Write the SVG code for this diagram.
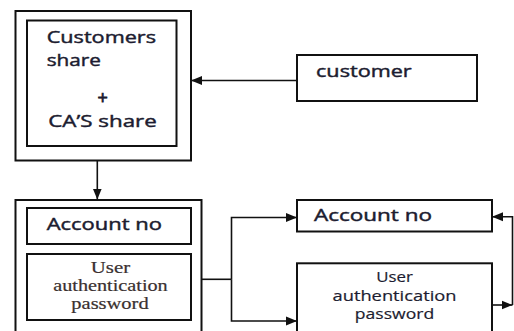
<svg xmlns="http://www.w3.org/2000/svg" width="514" height="331" viewBox="0 0 514 331">
<defs>
<style>
.box{fill:#fff;stroke:#111;stroke-width:2}
.ln{fill:none;stroke:#111;stroke-width:1.6}
.sans{font-family:"Open Sans","Liberation Sans",sans-serif;font-weight:normal;font-size:17px;fill:#1c1c30;stroke:#1c1c30;stroke-width:0.45}
.serif{font-family:"Liberation Serif",serif;font-size:16px;fill:#3a3030;text-anchor:middle;stroke:#3a3030;stroke-width:0.2}
.sansc{font-family:"Open Sans","Liberation Sans",sans-serif;font-size:15px;fill:#1c1c30;text-anchor:middle;stroke:#1c1c30;stroke-width:0.2}
</style>
<marker id="ah" markerUnits="userSpaceOnUse" markerWidth="12" markerHeight="10" refX="11" refY="5" orient="auto">
<path d="M0,0.5 L11,5 L0,9.5 Z" fill="#111"/>
</marker>
</defs>
<rect width="514" height="331" fill="#fff"/>
<g id="shares">
<rect class="box" x="15.5" y="11" width="175.5" height="149.5"/>
<rect class="box" x="27" y="20.5" width="149.5" height="125.5"/>
<text class="sans" x="46.7" y="43.3" textLength="109.3" lengthAdjust="spacingAndGlyphs">Customers</text>
<text class="sans" x="46.7" y="66" textLength="54.3" lengthAdjust="spacingAndGlyphs">share</text>
<text class="sans" x="102.7" y="104" text-anchor="middle" style="font-size:18px;stroke-width:0.8">+</text>
<text class="sans" x="48.3" y="126.7" textLength="108.4" lengthAdjust="spacingAndGlyphs">CA’S share</text>
</g>
<g id="customer">
<rect class="box" x="297" y="55" width="180" height="46"/>
<text class="sans" x="316" y="77.3" textLength="95.7" lengthAdjust="spacingAndGlyphs">customer</text>
</g>
<g id="left-credentials">
<rect class="box" x="15.5" y="200" width="186" height="145"/>
<rect class="box" x="27" y="208" width="164" height="36"/>
<text class="sans" x="46.7" y="230" textLength="115.3" lengthAdjust="spacingAndGlyphs">Account no</text>
<rect class="box" x="27" y="254" width="164" height="66"/>
<text class="serif" x="110.5" y="272.7" textLength="39.3" lengthAdjust="spacingAndGlyphs">User</text>
<text class="serif" x="110.5" y="290.7" textLength="114.4" lengthAdjust="spacingAndGlyphs">authentication</text>
<text class="serif" x="110" y="309" textLength="77.3" lengthAdjust="spacingAndGlyphs">password</text>
</g>
<g id="right-account">
<rect class="box" x="297" y="200" width="195" height="31.5"/>
<text class="sans" x="314" y="220.5" textLength="118" lengthAdjust="spacingAndGlyphs">Account no</text>
</g>
<g id="right-user">
<rect class="box" x="297" y="263.3" width="195" height="80"/>
<text class="sansc" x="394.5" y="281.7" textLength="36.6" lengthAdjust="spacingAndGlyphs">User</text>
<text class="sansc" x="394.5" y="300.7" textLength="124" lengthAdjust="spacingAndGlyphs">authentication</text>
<text class="sansc" x="394.5" y="319" textLength="79.3" lengthAdjust="spacingAndGlyphs">password</text>
</g>
<g id="connectors">
<path class="ln" d="M297,80.5 H191" marker-end="url(#ah)"/>
<path class="ln" d="M97.3,160.7 V199.5" marker-end="url(#ah)"/>
<path class="ln" d="M201.7,279.3 H231.5"/>
<path class="ln" d="M231.5,279.3 V217.5 H297" marker-end="url(#ah)"/>
<path class="ln" d="M231.5,279.3 V321 H297" marker-end="url(#ah)"/>
<path class="ln" d="M492,305 H512.5" marker-end="url(#ah)"/>
<path class="ln" d="M512.5,305 V216.7 H492" marker-end="url(#ah)"/>
</g>
</svg>
